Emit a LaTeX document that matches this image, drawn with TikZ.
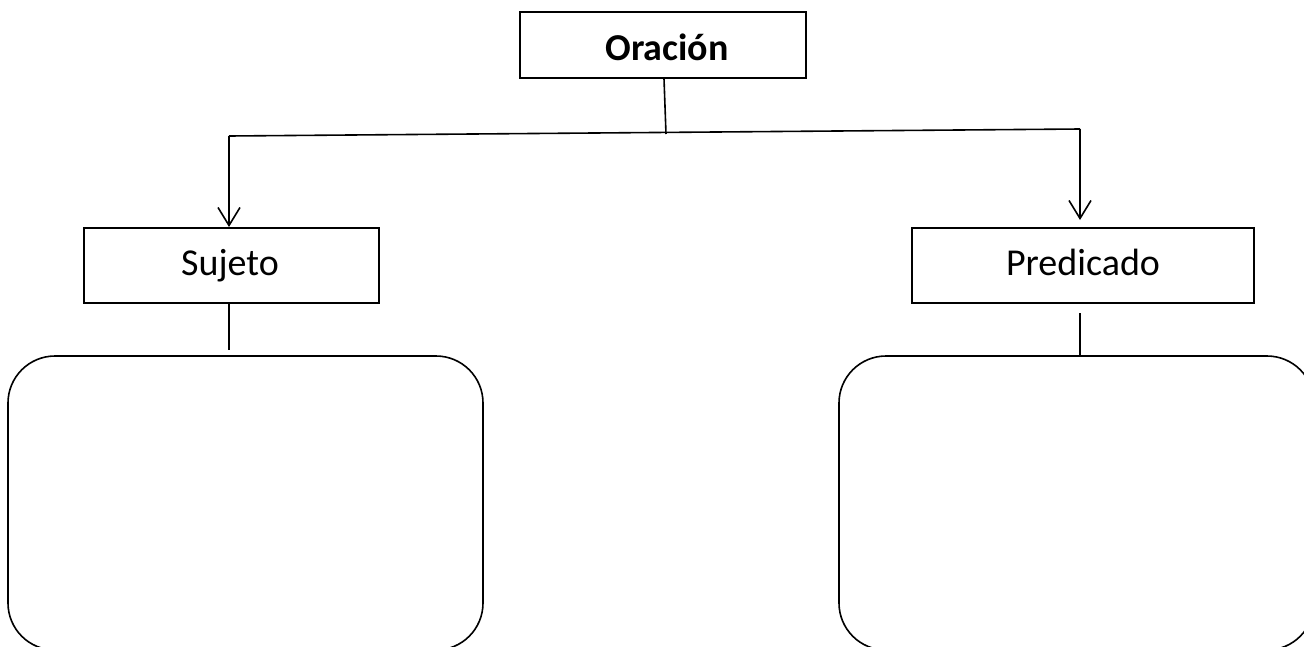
\documentclass[tikz,border=0pt]{standalone}
\usepackage{fontspec}
\setmainfont{Carlito}
\usetikzlibrary{arrows.meta}
\begin{document}
\begin{tikzpicture}[x=1pt,y=-1pt,line width=1.6pt,
  box/.style={draw,line width=1.3pt,inner sep=0pt},
  lbl/.style={anchor=base,inner sep=0pt,font=\fontsize{38}{44}\selectfont},
  bigbox/.style={draw,line width=1.6pt,rounded corners=47pt,inner sep=0pt},
  arr/.style={-{Straight Barb[length=18pt,width=22pt,line width=1.6pt]}}]
\useasboundingbox (0,0) rectangle (1304,646);
\clip (0,0) rectangle (1304,646);
\node[box,minimum width=286pt,minimum height=66pt] (orac) at (663,45) {};
\node[lbl,font=\fontsize{38}{44}\selectfont\bfseries] (oract) at (667,60) {Oración};
\node[box,minimum width=295pt,minimum height=75pt] (suj) at (231.5,265.5) {};
\node[lbl] (sujt) at (230,275) {Sujeto};
\node[box,minimum width=342pt,minimum height=75pt] (pred) at (1083,265.5) {};
\node[lbl] (predt) at (1083,275) {Predicado};
\node[bigbox,minimum width=475pt,minimum height=294pt] (lbox) at (245.5,503) {};
\node[bigbox,minimum width=475pt,minimum height=294pt] (rbox) at (1076.5,503) {};
\coordinate (j) at (666,134);
\coordinate (l) at (229,136);
\coordinate (r) at (1080,129);
\draw (orac.south -| 664,0) -- (j);
\draw (l) -- (r);
\draw[arr] (l) -- (229,227);
\draw[arr] (r) -- (1080,220);
\draw (suj.south -| 229,0) -- (229,350);
\draw (1080,313) -- (rbox.north -| 1080,0);
\end{tikzpicture}
\end{document}
